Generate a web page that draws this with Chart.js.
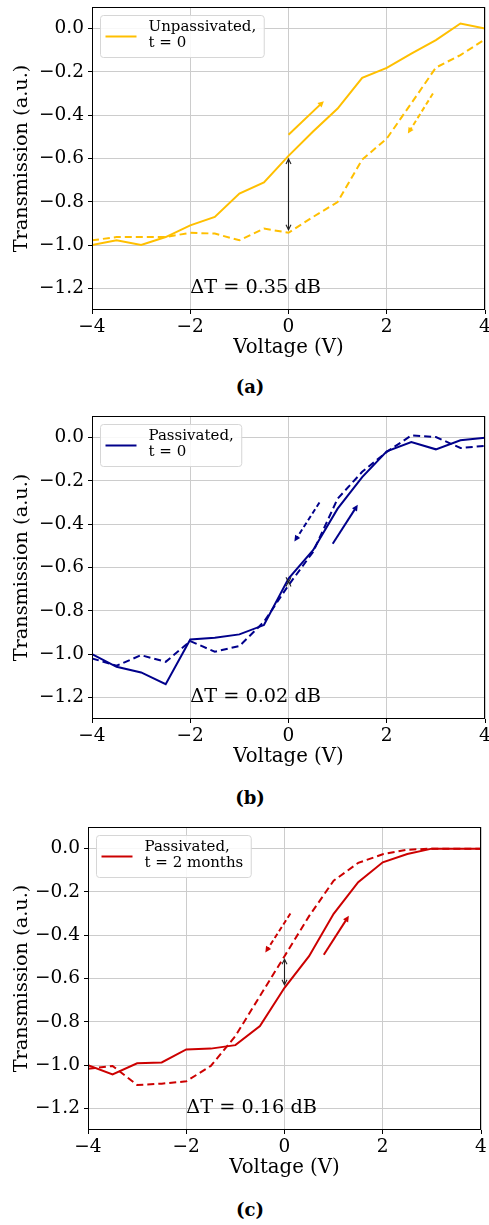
<!DOCTYPE html>
<html>
<head>
<meta charset="utf-8">
<script src="https://cdn.jsdelivr.net/npm/chart.js@4.4.1/dist/chart.umd.min.js"></script>
<style>
  html, body { margin: 0; padding: 0; background: #fff; }
  body { width: 489px; height: 1225px; position: relative; overflow: hidden; }
  canvas.panel { position: absolute; left: 0; }
  .caption { position: absolute; left: 150px; width: 200px; text-align: center;
             font: bold 18px 'DejaVu Serif', serif; line-height: 22px; color: #000; }
</style>
</head>
<body>
<canvas id="panelA" class="panel" width="489" height="365" style="top:0px"></canvas>
<div class="caption" style="top:376px">(a)</div>
<canvas id="panelB" class="panel" width="489" height="365" style="top:409px"></canvas>
<div class="caption" style="top:787px">(b)</div>
<canvas id="panelC" class="panel" width="489" height="365" style="top:820px"></canvas>
<div class="caption" style="top:1199px">(c)</div>

<script>
// Applied bias for each sweep point (V)
const voltage = [-4, -3.5, -3, -2.5, -2, -1.5, -1, -0.5, 0, 0.5, 1, 1.5, 2, 2.5, 3, 3.5, 4];

// Normalised transmission, up-sweep (solid) and down-sweep (dashed)
const unpassUp   = [-1.000, -0.978, -1.000, -0.963, -0.909, -0.870, -0.762, -0.710, -0.588, -0.475, -0.369, -0.227, -0.181, -0.115, -0.053, 0.024, 0.000];
const unpassDown = [-0.978, -0.963, -0.963, -0.963, -0.943, -0.947, -0.978, -0.924, -0.943, -0.870, -0.801, -0.605, -0.508, -0.345, -0.180, -0.122, -0.050];
const pass0Up    = [-1.000, -1.059, -1.085, -1.139, -0.933, -0.925, -0.909, -0.866, -0.651, -0.520, -0.328, -0.182, -0.063, -0.020, -0.054, -0.012, 0.000];
const pass0Down  = [-1.020, -1.054, -1.005, -1.036, -0.940, -0.989, -0.963, -0.851, -0.682, -0.528, -0.282, -0.158, -0.066, 0.010, 0.003, -0.048, -0.038];
const pass2mUp   = [-1.000, -1.043, -0.992, -0.988, -0.928, -0.924, -0.908, -0.820, -0.643, -0.497, -0.301, -0.155, -0.063, -0.025, 0.000, 0.000, 0.000];
const pass2mDown = [-1.017, -1.004, -1.092, -1.086, -1.075, -1.004, -0.866, -0.681, -0.497, -0.312, -0.148, -0.066, -0.026, -0.005, 0.000, 0.000, 0.000];

// Axis ticks
const xTicks = [-4, -2, 0, 2, 4];
const yTicks = [-1.2, -1.0, -0.8, -0.6, -0.4, -0.2, 0.0];

// Legend entries and hysteresis labels
const legendA = ['Unpassivated,', 't = 0'];
const legendB = ['Passivated,', 't = 0'];
const legendC = ['Passivated,', 't = 2 months'];
const deltaA = 'ΔT = 0.35 dB';
const deltaB = 'ΔT = 0.02 dB';
const deltaC = 'ΔT = 0.16 dB';

// Sweep-direction arrows: [x0, y0, x1, y1] in data units (tail -> head)
const arrowUpA   = [0.00, -0.490, 0.72, -0.335];
const arrowDownA = [2.94, -0.300, 2.43, -0.485];
const arrowUpB   = [0.90, -0.490, 1.41, -0.310];
const arrowDownB = [0.63, -0.300, 0.12, -0.480];
const arrowUpC   = [0.80, -0.490, 1.31, -0.310];
const arrowDownC = [0.12, -0.300, -0.39, -0.480];

const SERIF = "'DejaVu Serif', serif";

function fmtY(v) {
  const s = Math.abs(v).toFixed(1);
  return v < -1e-9 ? '\u2212' + s : s;
}
function fmtX(v) {
  return v < 0 ? '\u2212' + Math.abs(v) : String(v);
}

function arrowHead(ctx, x0, y0, x1, y1, len, half, filled) {
  const a = Math.atan2(y1 - y0, x1 - x0);
  const bx = x1 - len * Math.cos(a), by = y1 - len * Math.sin(a);
  const nx = -Math.sin(a) * half, ny = Math.cos(a) * half;
  ctx.beginPath();
  ctx.moveTo(bx + nx, by + ny);
  ctx.lineTo(x1, y1);
  ctx.lineTo(bx - nx, by - ny);
  if (filled) { ctx.closePath(); ctx.fill(); } else { ctx.stroke(); }
}

function makePanel(id, p) {
  const zeroIdx = voltage.indexOf(0);
  const decor = {
    id: 'panelDecor',
    afterDraw(chart) {
      const ctx = chart.ctx;
      const xs = chart.scales.x, ys = chart.scales.y;
      const area = chart.chartArea;
      const X = v => xs.getPixelForValue(v);
      const Y = v => ys.getPixelForValue(v);
      ctx.save();

      // direction arrows
      [[p.arrowUp, []], [p.arrowDown, [5, 3]]].forEach(([a, dash]) => {
        const x0 = X(a[0]), y0 = Y(a[1]), x1 = X(a[2]), y1 = Y(a[3]);
        ctx.strokeStyle = p.color; ctx.fillStyle = p.color;
        ctx.lineWidth = 2; ctx.setLineDash(dash);
        const ang = Math.atan2(y1 - y0, x1 - x0);
        ctx.beginPath();
        ctx.moveTo(x0, y0);
        ctx.lineTo(x1 - 4 * Math.cos(ang), y1 - 4 * Math.sin(ang));
        ctx.stroke();
        ctx.setLineDash([]);
        arrowHead(ctx, x0, y0, x1, y1, 6, 3, true);
      });

      // hysteresis gap at 0 V between the two sweeps
      {
        const xp = X(0);
        let ya = Y(p.up[zeroIdx]), yb = Y(p.down[zeroIdx]);
        const dir = Math.sign(yb - ya) || 1;
        ya += 3 * dir; yb -= 3 * dir;
        ctx.strokeStyle = '#222'; ctx.lineWidth = 1.1; ctx.setLineDash([]);
        ctx.beginPath(); ctx.moveTo(xp, ya); ctx.lineTo(xp, yb); ctx.stroke();
        arrowHead(ctx, xp, yb, xp, ya, 5, 2.5, false);
        arrowHead(ctx, xp, ya, xp, yb, 5, 2.5, false);
      }

      // ΔT label
      ctx.fillStyle = '#000';
      ctx.font = '19.3px ' + SERIF;
      ctx.textAlign = 'left'; ctx.textBaseline = 'middle';
      ctx.fillText(p.delta, X(-2), Y(-1.2));

      // legend box
      ctx.font = '15px ' + SERIF;
      const tw = Math.max(...p.legend.map(t => ctx.measureText(t).width));
      const bx = area.left + 8.5, by = area.top + 8.5;
      const bw = 48 + tw + 8, bh = 42;
      ctx.beginPath();
      if (ctx.roundRect) ctx.roundRect(bx, by, bw, bh, 3); else ctx.rect(bx, by, bw, bh);
      ctx.fillStyle = 'rgba(255,255,255,0.85)'; ctx.fill();
      ctx.strokeStyle = '#d6d6d6'; ctx.lineWidth = 1; ctx.stroke();
      ctx.strokeStyle = p.color; ctx.lineWidth = 2;
      ctx.beginPath(); ctx.moveTo(bx + 5, by + 21); ctx.lineTo(bx + 36, by + 21); ctx.stroke();
      ctx.fillStyle = '#000'; ctx.textBaseline = 'middle';
      ctx.fillText(p.legend[0], bx + 48, by + 11.5);
      ctx.fillText(p.legend[1], bx + 48, by + 27.5);

      // axes frame
      ctx.strokeStyle = '#000'; ctx.lineWidth = 1;
      ctx.strokeRect(Math.round(area.left) + 0.5, Math.round(area.top) + 0.5,
                     Math.round(area.right - area.left) - 1, Math.round(area.bottom - area.top) - 1);
      ctx.restore();
    }
  };

  const series = (arr) => voltage.map((v, i) => ({ x: v, y: arr[i] }));
  const zeroPad = (s) => { s.paddingTop = 0; s.paddingBottom = 0; s.paddingLeft = 0; s.paddingRight = 0; };

  return new Chart(document.getElementById(id), {
    type: 'line',
    data: {
      datasets: [
        { data: series(p.up), borderColor: p.color, borderWidth: 2, pointRadius: 0, tension: 0, fill: false },
        { data: series(p.down), borderColor: p.color, borderWidth: 2, borderDash: [7, 4], pointRadius: 0, tension: 0, fill: false }
      ]
    },
    options: {
      responsive: false,
      animation: false,
      devicePixelRatio: 1,
      layout: { padding: { top: 7, right: p.right, bottom: 0, left: 0 } },
      plugins: { legend: { display: false }, tooltip: { enabled: false } },
      scales: {
        x: {
          type: 'linear', min: -4, max: 4,
          afterBuildTicks: s => { s.ticks = xTicks.map(v => ({ value: v })); },
          afterFit: s => { s.height = 55; zeroPad(s); },
          ticks: { callback: v => fmtX(v), color: '#000', font: { family: SERIF, size: 18.5 }, padding: 2, maxRotation: 0, autoSkip: false },
          grid: { color: '#cccccc', lineWidth: 1, tickColor: '#000', tickLength: 4, drawTicks: true },
          border: { display: false },
          title: { display: true, text: 'Voltage (V)', color: '#000', font: { family: SERIF, size: 19.7 }, padding: { top: 0, bottom: 5 } }
        },
        y: {
          type: 'linear', min: -1.3, max: 0.1,
          afterBuildTicks: s => { s.ticks = yTicks.map(v => ({ value: v })); },
          afterFit: s => { s.width = p.left; zeroPad(s); },
          ticks: { callback: v => fmtY(v), color: '#000', font: { family: SERIF, size: 18.5 }, padding: 4, autoSkip: false },
          grid: { color: '#cccccc', lineWidth: 1, tickColor: '#000', tickLength: 4, drawTicks: true },
          border: { display: false },
          title: { display: true, text: 'Transmission (a.u.)', color: '#000', font: { family: SERIF, size: 19.3 }, padding: { top: 10, bottom: 0 } }
        }
      }
    },
    plugins: [decor]
  });
}

makePanel('panelA', { up: unpassUp, down: unpassDown, color: '#ffbf00', legend: legendA, delta: deltaA,
                      arrowUp: arrowUpA, arrowDown: arrowDownA, left: 92, right: 4 });
makePanel('panelB', { up: pass0Up, down: pass0Down, color: '#00008b', legend: legendB, delta: deltaB,
                      arrowUp: arrowUpB, arrowDown: arrowDownB, left: 92, right: 4 });
makePanel('panelC', { up: pass2mUp, down: pass2mDown, color: '#cc0000', legend: legendC, delta: deltaC,
                      arrowUp: arrowUpC, arrowDown: arrowDownC, left: 88, right: 8 });
</script>
</body>
</html>
